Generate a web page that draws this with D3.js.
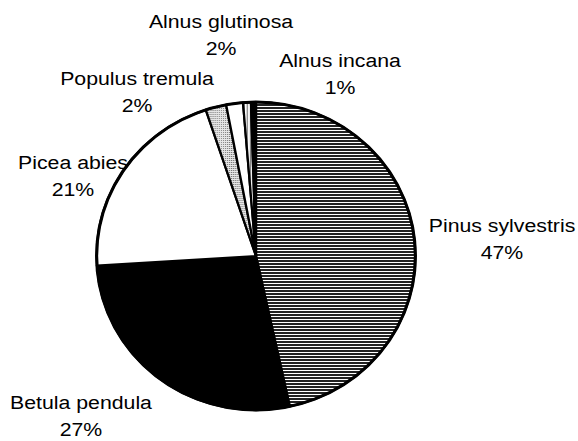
<!DOCTYPE html>
<html>
<head>
<meta charset="utf-8">
<script src="https://cdn.jsdelivr.net/npm/d3@7"></script>
<style>
	body { margin: 0; background: #fff; }
	text { font-family: "Liberation Sans", Arial, Helvetica, sans-serif; fill: #000; }
</style>
</head>
<body>
<div id="chart"></div>
<script>
// species shares, clockwise from 12 o'clock
var species = ["Pinus sylvestris", "Betula pendula", "Picea abies", "Populus tremula", "Alnus glutinosa", "Alnus incana", ""];
var shares = [46.6, 27.4, 20.9, 2.1, 1.7, 0.8, 0.5];

// where each label sits (layout only, not data)
var labelPos = [[502, 232], [81, 409], [73, 169], [137, 85], [221, 28], [340, 67], null];
var fills = ["url(#hlines)", "#000", "#fff", "url(#stipple)", "#fff", "url(#vlines)", "#000"];

var W = 578, H = 441;
var cx = 256, cy = 256, r = 154;

var svg = d3.select("#chart").append("svg")
	.attr("width", W)
	.attr("height", H);

// fill patterns
var defs = svg.append("defs");
var hl = defs.append("pattern").attr("id", "hlines")
	.attr("patternUnits", "userSpaceOnUse").attr("width", 8).attr("height", 3);
hl.append("rect").attr("width", 8).attr("height", 3).attr("fill", "#fff");
hl.append("rect").attr("y", 1).attr("width", 8).attr("height", 2).attr("fill", "#222");

var st = defs.append("pattern").attr("id", "stipple")
	.attr("patternUnits", "userSpaceOnUse").attr("width", 2).attr("height", 2);
st.append("rect").attr("width", 2).attr("height", 2).attr("fill", "#e6e6e6");
st.append("rect").attr("width", 1).attr("height", 1).attr("fill", "#777");

var vl = defs.append("pattern").attr("id", "vlines")
	.attr("patternUnits", "userSpaceOnUse").attr("width", 3).attr("height", 3);
vl.append("rect").attr("width", 3).attr("height", 3).attr("fill", "#fff");
vl.append("rect").attr("width", 1).attr("height", 3).attr("fill", "#555");

var pie = d3.pie().sort(null).value(function(d) { return d; });
var arcs = pie(shares);
var arc = d3.arc().innerRadius(0).outerRadius(r);

// pie is a touch wider than tall in the original
var g = svg.append("g")
	.attr("transform", "translate(" + cx + "," + cy + ") scale(1.035,1)");

g.selectAll("path.slice")
	.data(arcs)
	.enter().append("path")
	.attr("class", "slice")
	.attr("d", arc)
	.attr("fill", function(d, i) { return fills[i]; })
	.attr("stroke", "#000")
	.attr("stroke-width", 2.2)
	.attr("stroke-linejoin", "round");

g.append("circle")
	.attr("r", r)
	.attr("fill", "none")
	.attr("stroke", "#000")
	.attr("stroke-width", 3);

// labels: name + rounded percent, glyphs a little wide like the original
var labels = svg.selectAll("g.label")
	.data(arcs.filter(function(d, i) { return labelPos[i]; }))
	.enter().append("g")
	.attr("class", "label")
	.attr("transform", function(d) {
		var p = labelPos[d.index];
		return "translate(" + p[0] + "," + p[1] + ") scale(1.12,1)";
	});

labels.append("text")
	.attr("text-anchor", "middle")
	.style("font-size", "19px")
	.text(function(d) { return species[d.index]; });

labels.append("text")
	.attr("text-anchor", "middle")
	.attr("y", 27)
	.style("font-size", "19px")
	.text(function(d) { return Math.round(d.value) + "%"; });
</script>
</body>
</html>
